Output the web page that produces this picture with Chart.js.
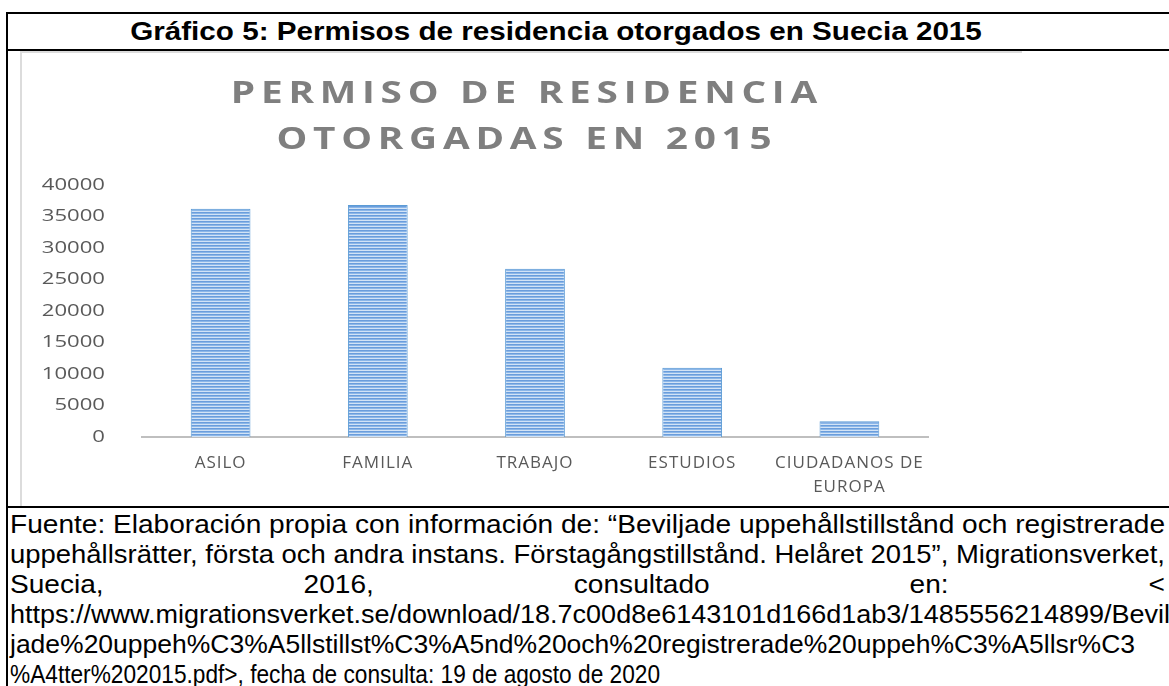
<!DOCTYPE html>
<html>
<head>
<meta charset="utf-8">
<script src="https://cdn.jsdelivr.net/npm/chart.js@4.4.1/dist/chart.umd.min.js"></script>
<style>
    html, body { margin: 0; padding: 0; background: #fff; width: 1169px; height: 686px; overflow: hidden; }
    .frame { position: absolute; left: 6px; top: 12px; width: 1200px; height: 700px; border-left: 2px solid #000; border-top: 2px solid #000; }
    .caption { position: absolute; left: 556px; top: 12px; white-space: nowrap; font: bold 26px "Liberation Sans", Arial, sans-serif; line-height: 38px; color: #000; transform: translateX(-50%) scaleX(1.14); }
    .rule { position: absolute; left: 6px; width: 1200px; height: 2px; background: #000; }
    .img { position: absolute; left: 20px; top: 51px; width: 1000px; height: 454px; border-left: 2px solid #dcdcdc; border-top: 2px solid #dcdcdc; }
    #chart { position: absolute; left: 22px; top: 53px; }
    #foot { position: absolute; left: 10px; top: 509px; font: 25px "Liberation Sans", Arial, sans-serif; color: #000; }
    #foot div { height: 30px; line-height: 30px; white-space: nowrap; transform-origin: 0 0; }
    #foot div.j { white-space: normal; text-align: justify; text-align-last: justify; overflow: hidden; }
</style>
</head>
<body>
<div class="frame"></div>
<div class="caption">Gráfico 5: Permisos de residencia otorgados en Suecia 2015</div>
<div class="rule" style="top:49px"></div>
<div class="img"></div>
<canvas id="chart" width="960" height="452"></canvas>
<div class="rule" style="top:506px"></div>
<div id="foot">
    <div>Fuente: Elaboración propia con información de: “Beviljade uppehållstillstånd och registrerade</div>
    <div>uppehållsrätter, första och andra instans. Förstagångstillstånd. Helåret 2015”, Migrationsverket,</div>
    <div class="j">Suecia, 2016, consultado en: &lt;</div>
    <div>https://www.migrationsverket.se/download/18.7c00d8e6143101d166d1ab3/1485556214899/Bevil</div>
    <div>jade%20uppeh%C3%A5llstillst%C3%A5nd%20och%20registrerade%20uppeh%C3%A5llsr%C3</div>
    <div>%A4tter%202015.pdf&gt;, fecha de consulta: 19 de agosto de 2020</div>
</div>
<script>
// datos
const categories = ['ASILO', 'FAMILIA', 'TRABAJO', 'ESTUDIOS', ['CIUDADANOS DE', 'EUROPA']];
const permisos = [36200, 36800, 26700, 11000, 2500];
const yMin = 0;
const yMax = 40000;
const yStep = 5000;
const chartTitle = ['PERMISO DE RESIDENCIA', 'OTORGADAS EN 2015'];

// texto de la fuente: letra estrecha como en el original
function textWidth(text, font) {
    const m = document.createElement('canvas').getContext('2d');
    m.font = font;
    return m.measureText(text).width;
}
const footFont = '25px "Liberation Sans", Arial, sans-serif';
const footLines = document.querySelectorAll('#foot div');
const squeeze = 1155 / textWidth(footLines[0].textContent, footFont);
// ancho final de cada renglon (null = escala del primero, justificado)
const lineTargets = [1155, 1155, null, 1160, 1125, 650];
footLines.forEach((div, i) => {
    let s = squeeze;
    if (lineTargets[i]) s = lineTargets[i] / textWidth(div.textContent, footFont);
    div.style.width = (1155 / s) + 'px';
    div.style.transform = 'scaleX(' + s + ')';
});

const canvas = document.getElementById('chart');
const ctx = canvas.getContext('2d');

// relleno de barras con rayas horizontales
function stripes(context) {
    const c = document.createElement('canvas');
    c.width = 4;
    c.height = 3;
    const g = c.getContext('2d');
    g.fillStyle = '#6a9ddc';
    g.fillRect(0, 0, 4, 1);
    g.fillStyle = '#8cb7e8';
    g.fillRect(0, 1, 4, 1);
    g.fillStyle = '#d2e3f6';
    g.fillRect(0, 2, 4, 1);
    return context.createPattern(c, 'repeat');
}

// el original es una imagen estirada a lo ancho: titulo y eje y se estiran igual
const titleStretch = 1.25;
const titleSpacing = 4.6;
const titleCenter = 502;
const yStretch = 1.3;

const stretchText = {
    id: 'stretchText',
    afterInit(chart) {
        const t = chart.titleBlock;
        const draw = t.draw.bind(t);
        t.draw = function () {
            const c = chart.ctx;
            const c0 = (t.left + t.right) / 2 - titleSpacing / 2;
            c.save();
            c.letterSpacing = titleSpacing + 'px';
            c.translate(titleCenter, 0);
            c.scale(titleStretch, 1);
            c.translate(-c0, 0);
            draw();
            c.restore();
        };
    },
    afterUpdate(chart) {
        const y = chart.scales.y;
        if (y._stretched) return;
        y._stretched = true;
        const drawLabels = y.drawLabels.bind(y);
        y.drawLabels = function (area) {
            const c = chart.ctx;
            const edge = y.right - y.options.ticks.padding;
            c.save();
            c.letterSpacing = '0px';
            c.translate(edge, 0);
            c.scale(yStretch, 1);
            c.translate(-edge, 0);
            drawLabels(area);
            c.restore();
        };
    },
    beforeDraw(chart) {
        chart.ctx.letterSpacing = '1px';
    },
    beforeDatasetsDraw(chart) {
        chart.ctx.letterSpacing = '0px';
    }
};

const tickFont = { family: '"Open Sans", sans-serif', size: 17, lineHeight: 1.4 };

new Chart(ctx, {
    type: 'bar',
    data: {
        labels: categories,
        datasets: [{
            data: permisos,
            backgroundColor: stripes(ctx),
            borderColor: '#5b9bd5',
            borderWidth: 1,
            barPercentage: 0.38,
            categoryPercentage: 1
        }]
    },
    options: {
        responsive: false,
        animation: false,
        layout: { padding: { left: 15, right: 54, top: 0, bottom: 0 } },
        plugins: {
            legend: { display: false },
            tooltip: { enabled: false },
            title: {
                display: true,
                fullSize: false,
                text: chartTitle,
                color: '#7f7f7f',
                font: { family: '"Open Sans", sans-serif', size: 31, weight: 'bold', lineHeight: 1.48 },
                padding: { top: 18, bottom: 22 }
            }
        },
        scales: {
            x: {
                grid: { display: false, drawTicks: false },
                border: { display: true, color: '#bfbfbf', width: 2 },
                ticks: { color: '#595959', font: tickFont, padding: 14, maxRotation: 0, autoSkip: false },
                afterFit(scale) { scale.height = 68; }
            },
            y: {
                min: yMin,
                max: yMax,
                grid: { display: false, drawTicks: false },
                border: { display: false },
                ticks: {
                    stepSize: yStep,
                    color: '#595959',
                    font: tickFont,
                    padding: 37,
                    callback: (value) => String(value)
                },
                afterFit(scale) { scale.width = 105; }
            }
        }
    },
    plugins: [stretchText]
});
</script>
</body>
</html>
